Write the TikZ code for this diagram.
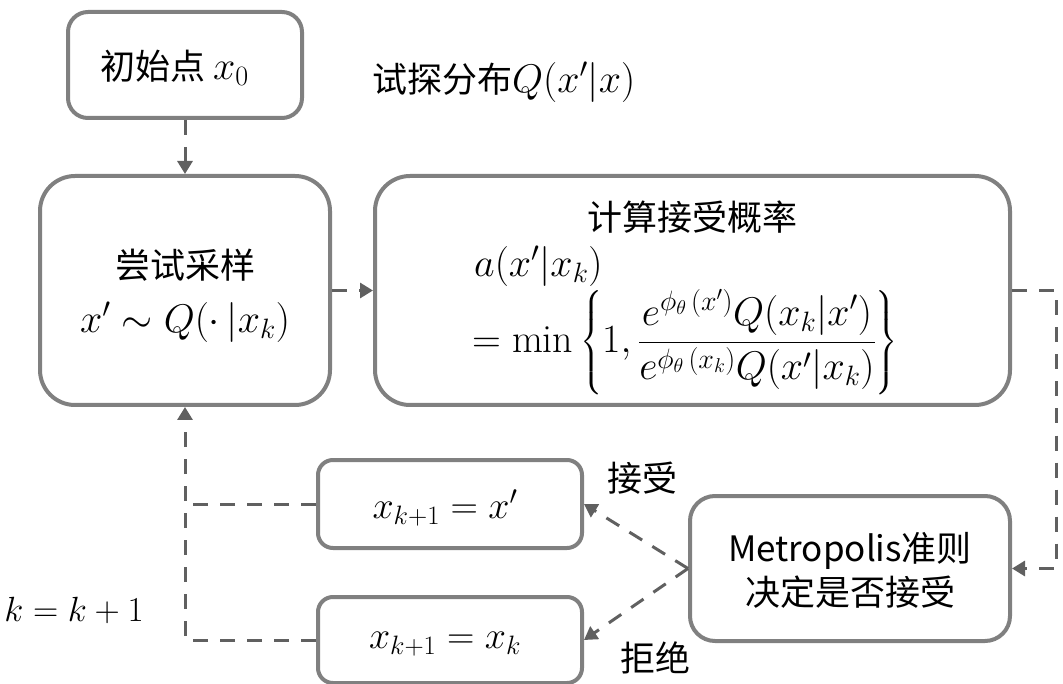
\RequirePackage{fix-cm}
\documentclass[tikz,border=0pt]{standalone}
\usepackage{amsmath}
\usepackage{fontspec}
\newfontfamily\cjk{Noto Sans CJK SC}
\usetikzlibrary{arrows.meta,calc}
\definecolor{boxgray}{RGB}{128,128,128}
\definecolor{linegray}{RGB}{96,96,96}
\newcommand\mth[1]{{\fontsize{40}{48}\selectfont$#1$}}
\tikzset{
  box/.style={draw=boxgray, line width=4pt, fill=white, inner sep=0pt},
  lbl/.style={inner sep=0pt, font=\cjk\fontsize{35}{44}\selectfont},
  mlbl/.style={inner sep=0pt, font=\fontsize{40}{48}\selectfont},
  conn/.style={draw=linegray, line width=3pt, dash pattern=on 15pt off 12pt},
  arr/.style={conn, -{Triangle[length=13pt,width=15pt]}}
}
\begin{document}
\begin{tikzpicture}[x=1pt,y=-1pt]
\useasboundingbox (0,0) rectangle (1063,684);
% boxes
\node[box, minimum width=234pt, minimum height=106pt, rounded corners=20pt] (init) at (185,65) {};
\node[box, minimum width=290pt, minimum height=229pt, rounded corners=35pt] (sample) at (185,290.5) {};
\node[box, minimum width=635pt, minimum height=229pt, rounded corners=35pt] (comp) at (692.5,290.5) {};
\node[box, minimum width=264pt, minimum height=88pt, rounded corners=15pt] (xp) at (450,504) {};
\node[box, minimum width=264pt, minimum height=86pt, rounded corners=15pt] (xk) at (450,640) {};
\node[box, minimum width=320pt, minimum height=145pt, rounded corners=25pt] (metro) at (850,568.5) {};
% texts
\node[lbl, anchor=west] (tinit) at (100,68) {初始点 \mth{x_0}};
\node[lbl, anchor=west] (tq) at (372,82) {试探分布\mth{Q(x'|x)}};
\node[lbl] (tsample) at (185,265) {尝试采样};
\node[mlbl] (tsample2) at (185,322) {$x'\sim Q(\cdot\,|x_k)$};
\node[lbl] (tcomp) at (692,217) {计算接受概率};
\node[mlbl, anchor=west] (ta) at (474,266) {$a(x'|x_k)$};
\node[mlbl, anchor=west] (tmin) at (472,342) {$=\min\left\{1,\dfrac{e^{\phi_\theta\,(x')}Q(x_k|x')}{e^{\phi_\theta\,(x_k)}Q(x'|x_k)}\right\}$};
\node[mlbl, font=\fontsize{38}{46}\selectfont] (txp) at (445,508) {$x_{k+1}=x'$};
\node[mlbl, font=\fontsize{38}{46}\selectfont] (txk) at (445,644) {$x_{k+1}=x_k$};
\node[lbl, align=center] (tmetro) at (850,570) {Metropolis准则\\决定是否接受};
\node[lbl] (tacc) at (642,478) {接受};
\node[lbl] (trej) at (655,658) {拒绝};
\node[mlbl, font=\fontsize{35}{42}\selectfont] (tk) at (74,610) {$k=k+1$};
% connectors
\coordinate (rt) at (1056,290.5);
\draw[arr] (init.south) -- (sample.north);
\draw[arr] (sample.east) -- (comp.west);
\draw[arr] (comp.east) -- (rt) |- (metro.east);
\draw[arr] (metro.west) -- (xp.east);
\draw[arr] (metro.west) -- (xk.east);
\draw[arr] (xk.west) -| (sample.south);
\draw[conn] (xp.west) -- (sample.south |- xp.west);
\end{tikzpicture}
\end{document}
